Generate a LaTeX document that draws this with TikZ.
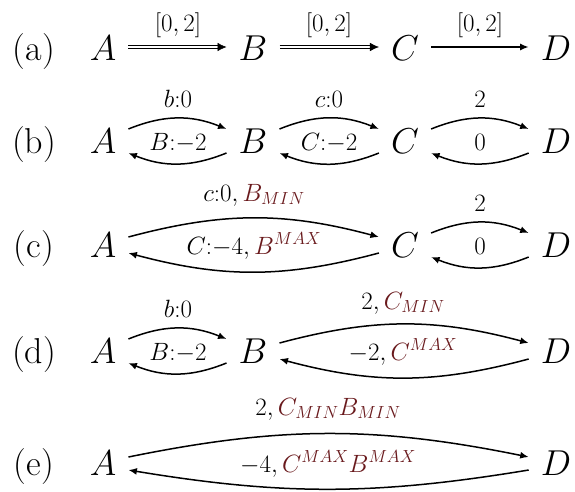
\RequirePackage{fix-cm}
\documentclass[tikz,border=0pt]{standalone}
\usepackage{fontspec}
\usetikzlibrary{arrows.meta}
\definecolor{mred}{RGB}{105,25,28}
\tikzset{
 let/.style={anchor=base, inner xsep=12pt, inner ysep=0pt, font=\fontsize{36}{43}\selectfont},
 rowlab/.style={anchor=base, inner sep=0pt, font=\fontsize{36}{43}\selectfont},
 lab/.style={anchor=base, inner sep=0pt, font=\fontsize{25}{30}\selectfont},
 arr/.style={line width=1.5pt, -{Latex[length=8.5pt,width=7pt]}},
 dblline/.style={line width=1.3pt, double, double distance=2.2pt, shorten >=7pt},
 tiponly/.style={line width=0.5pt, -{Latex[length=9pt,width=8.5pt]}},
}
\begin{document}
\begin{tikzpicture}[x=1pt,y=-1pt]
\useasboundingbox (0,0) rectangle (575,491);
% row (a)
\node[rowlab] (la) at (34,60) {(a)};
\node[let] (a1) at (103,60) {$A$};
\node[let] (b1) at (253,60) {$B$};
\node[let] (c1) at (405,60) {$C$};
\node[let] (d1) at (556,60) {$D$};
\draw[dblline] ([yshift=13pt]a1.base east) -- ([yshift=13pt]b1.base west);
\draw[tiponly] ([yshift=13pt,xshift=-9pt]b1.base west) -- ([yshift=13pt]b1.base west);
\draw[dblline] ([yshift=13pt]b1.base east) -- ([yshift=13pt]c1.base west);
\draw[tiponly] ([yshift=13pt,xshift=-9pt]c1.base west) -- ([yshift=13pt]c1.base west);
\draw[arr] ([yshift=13pt]c1.base east) -- ([yshift=13pt]d1.base west);
\node[lab] (t1) at (178,31) {$[0,2]$};
\node[lab] (t2) at (329,31) {$[0,2]$};
\node[lab] (t3) at (480,31) {$[0,2]$};
% row (b)
\node[rowlab] (lb) at (34,153) {(b)};
\node[let] (a2) at (103,153) {$A$};
\node[let] (b2) at (253,153) {$B$};
\node[let] (c2) at (405,153) {$C$};
\node[let] (d2) at (556,153) {$D$};
\draw[arr] ([yshift=24pt]a2.base east) to[bend left=22] ([yshift=24pt]b2.base west);
\draw[arr] (b2.base west) to[bend left=22] (a2.base east);
\draw[arr] ([yshift=24pt]b2.base east) to[bend left=22] ([yshift=24pt]c2.base west);
\draw[arr] (c2.base west) to[bend left=22] (b2.base east);
\draw[arr] ([yshift=24pt]c2.base east) to[bend left=22] ([yshift=24pt]d2.base west);
\draw[arr] (d2.base west) to[bend left=22] (c2.base east);
\node[lab] (u1) at (178,107) {$b{:}0$};
\node[lab] (v1) at (178,150) {$B{:}{-}2$};
\node[lab] (u2) at (329,107) {$c{:}0$};
\node[lab] (v2) at (329,150) {$C{:}{-}2$};
\node[lab] (u3) at (480,107) {$2$};
\node[lab] (v3) at (480,150) {$0$};
% row (c)
\node[rowlab] (lc) at (34,257) {(c)};
\node[let] (a3) at (103,257) {$A$};
\node[let] (c3) at (405,257) {$C$};
\node[let] (d3) at (556,257) {$D$};
\draw[arr] ([yshift=20pt]a3.base east) to[bend left=15] ([yshift=20pt]c3.base west);
\draw[arr] ([yshift=4pt]c3.base west) to[bend left=15] ([yshift=4pt]a3.base east);
\draw[arr] ([yshift=24pt]c3.base east) to[bend left=22] ([yshift=24pt]d3.base west);
\draw[arr] (d3.base west) to[bend left=22] (c3.base east);
\node[lab] (u4) at (254,201) {$c{:}0,\textcolor{mred}{B_{MIN}}$};
\node[lab] (v4) at (254,254) {$C{:}{-}4,\textcolor{mred}{B^{MAX}}$};
\node[lab] (u5) at (480,211) {$2$};
\node[lab] (v5) at (480,254) {$0$};
% row (d)
\node[rowlab] (ld) at (34,363) {(d)};
\node[let] (a4) at (103,363) {$A$};
\node[let] (b4) at (253,363) {$B$};
\node[let] (d4) at (556,363) {$D$};
\draw[arr] ([yshift=24pt]a4.base east) to[bend left=22] ([yshift=24pt]b4.base west);
\draw[arr] (b4.base west) to[bend left=22] (a4.base east);
\draw[arr] ([yshift=20pt]b4.base east) to[bend left=15] ([yshift=20pt]d4.base west);
\draw[arr] ([yshift=4pt]d4.base west) to[bend left=15] ([yshift=4pt]b4.base east);
\node[lab] (u6) at (178,317) {$b{:}0$};
\node[lab] (v6) at (178,360) {$B{:}{-}2$};
\node[lab] (u7) at (403,309) {$2,\textcolor{mred}{C_{MIN}}$};
\node[lab] (v7) at (403,360) {${-}2,\textcolor{mred}{C^{MAX}}$};
% row (e)
\node[rowlab] (le) at (34,475) {(e)};
\node[let] (a5) at (103,475) {$A$};
\node[let] (d5) at (556,475) {$D$};
\draw[arr] ([yshift=18pt]a5.base east) to[bend left=11.5] ([yshift=18pt]d5.base west);
\draw[arr] ([yshift=5pt]d5.base west) to[bend left=9.4] ([yshift=5pt]a5.base east);
\node[lab] (u8) at (328,415) {$2,\textcolor{mred}{C_{MIN}B_{MIN}}$};
\node[lab] (v8) at (328,472) {${-}4,\textcolor{mred}{C^{MAX}B^{MAX}}$};
\end{tikzpicture}
\end{document}
